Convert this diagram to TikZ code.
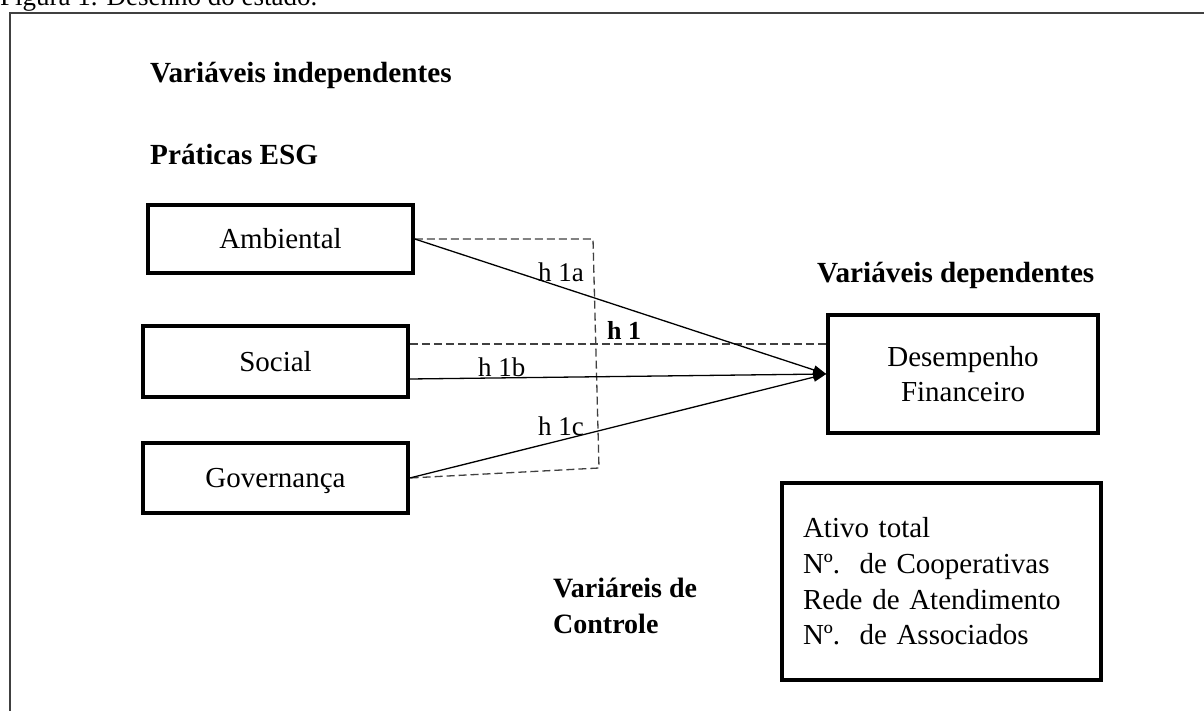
\documentclass[tikz,border=0pt]{standalone}
\usepackage{fontspec}
\setmainfont{Liberation Serif}
\usetikzlibrary{arrows.meta}
\tikzset{
  varbox/.style={draw=black, line width=3.5pt, inner sep=0pt, font=\fontsize{29}{35}\selectfont},
  boxlabel/.style={text height=19.8pt, text depth=0pt},
  heading/.style={inner sep=0pt, anchor=base west, font=\fontsize{29.2}{36}\selectfont\bfseries},
  hyp/.style={inner sep=0pt, anchor=base west, font=\fontsize{27}{32}\selectfont},
  link/.style={line width=1.3pt, -{Triangle[length=13pt,width=9pt]}},
  dashlink/.style={line width=1.3pt, draw=black!75, dash pattern=on 8pt off 4pt},
  frameline/.style={line width=2pt, draw=black!75},
}
\begin{document}
\begin{tikzpicture}[x=1pt,y=-1pt]
\clip (0,0) rectangle (1204,711);
\fill[white] (0,0) rectangle (1204,711);
\node[inner sep=0pt, anchor=base west, font=\fontsize{27}{32}\selectfont] (cap) at (0,6) {Figura 1. Desenho do estado.};
\draw[frameline] (9.5,760) -- (9.5,13) -- (1260,13);

% headings
\node[heading] (indep) at (150,83) {Variáveis independentes};
\node[heading] (esg) at (150,165) {Práticas ESG};
\node[heading] (dep) at (817,283) {Variáveis dependentes};
\node[heading, anchor=west, align=left, font=\fontsize{28}{36}\selectfont\bfseries] (ctrlh) at (553,605.5) {Variáreis de\\Controle};

% boxes
\node[varbox, boxlabel, minimum width=265pt, minimum height=68pt] (amb) at (280.5,239) {Ambiental};
\node[varbox, boxlabel, minimum width=265pt, minimum height=71pt] (soc) at (275.5,361.5) {Social};
\node[varbox, boxlabel, minimum width=265pt, minimum height=70pt] (gov) at (275.5,478) {Governança};
\node[varbox, minimum width=270pt, minimum height=118pt, align=center] (des) at (963,374) {Desempenho\\Financeiro};
\node[varbox, minimum width=319pt, minimum height=197pt, text width=277pt, align=left, font=\fontsize{29}{35.7}\selectfont] (ctl) at (941.5,581.5) {Ativo total\\Nº.\ \ de Cooperativas\\Rede de Atendimento\\Nº.\ \ de Associados};

% dashed bracket and h1 line
\coordinate (bk1) at (593,239);
\coordinate (bk2) at (599,468);
\draw[dashlink] (amb.east) -- (bk1) -- (bk2) -- (gov.east);
\coordinate (h1s) at ([yshift=17.5pt]soc.east);
\draw[dashlink] (h1s) -- (h1s -| des.west);

% arrows
\coordinate (socout) at ([yshift=-17.5pt]soc.east);
\draw[link] (amb.east) -- (des.west);
\draw[link] (socout) -- (des.west);
\draw[link] (gov.east) -- (des.west);

% hypothesis labels
\node[hyp] (h1a) at (538,281) {h 1a};
\node[hyp, font=\fontsize{26}{32}\selectfont\bfseries] (h1) at (607,339) {h 1};
\node[hyp] (h1b) at (478,376) {h 1b};
\node[hyp] (h1c) at (538,435) {h 1c};
\end{tikzpicture}
\end{document}
